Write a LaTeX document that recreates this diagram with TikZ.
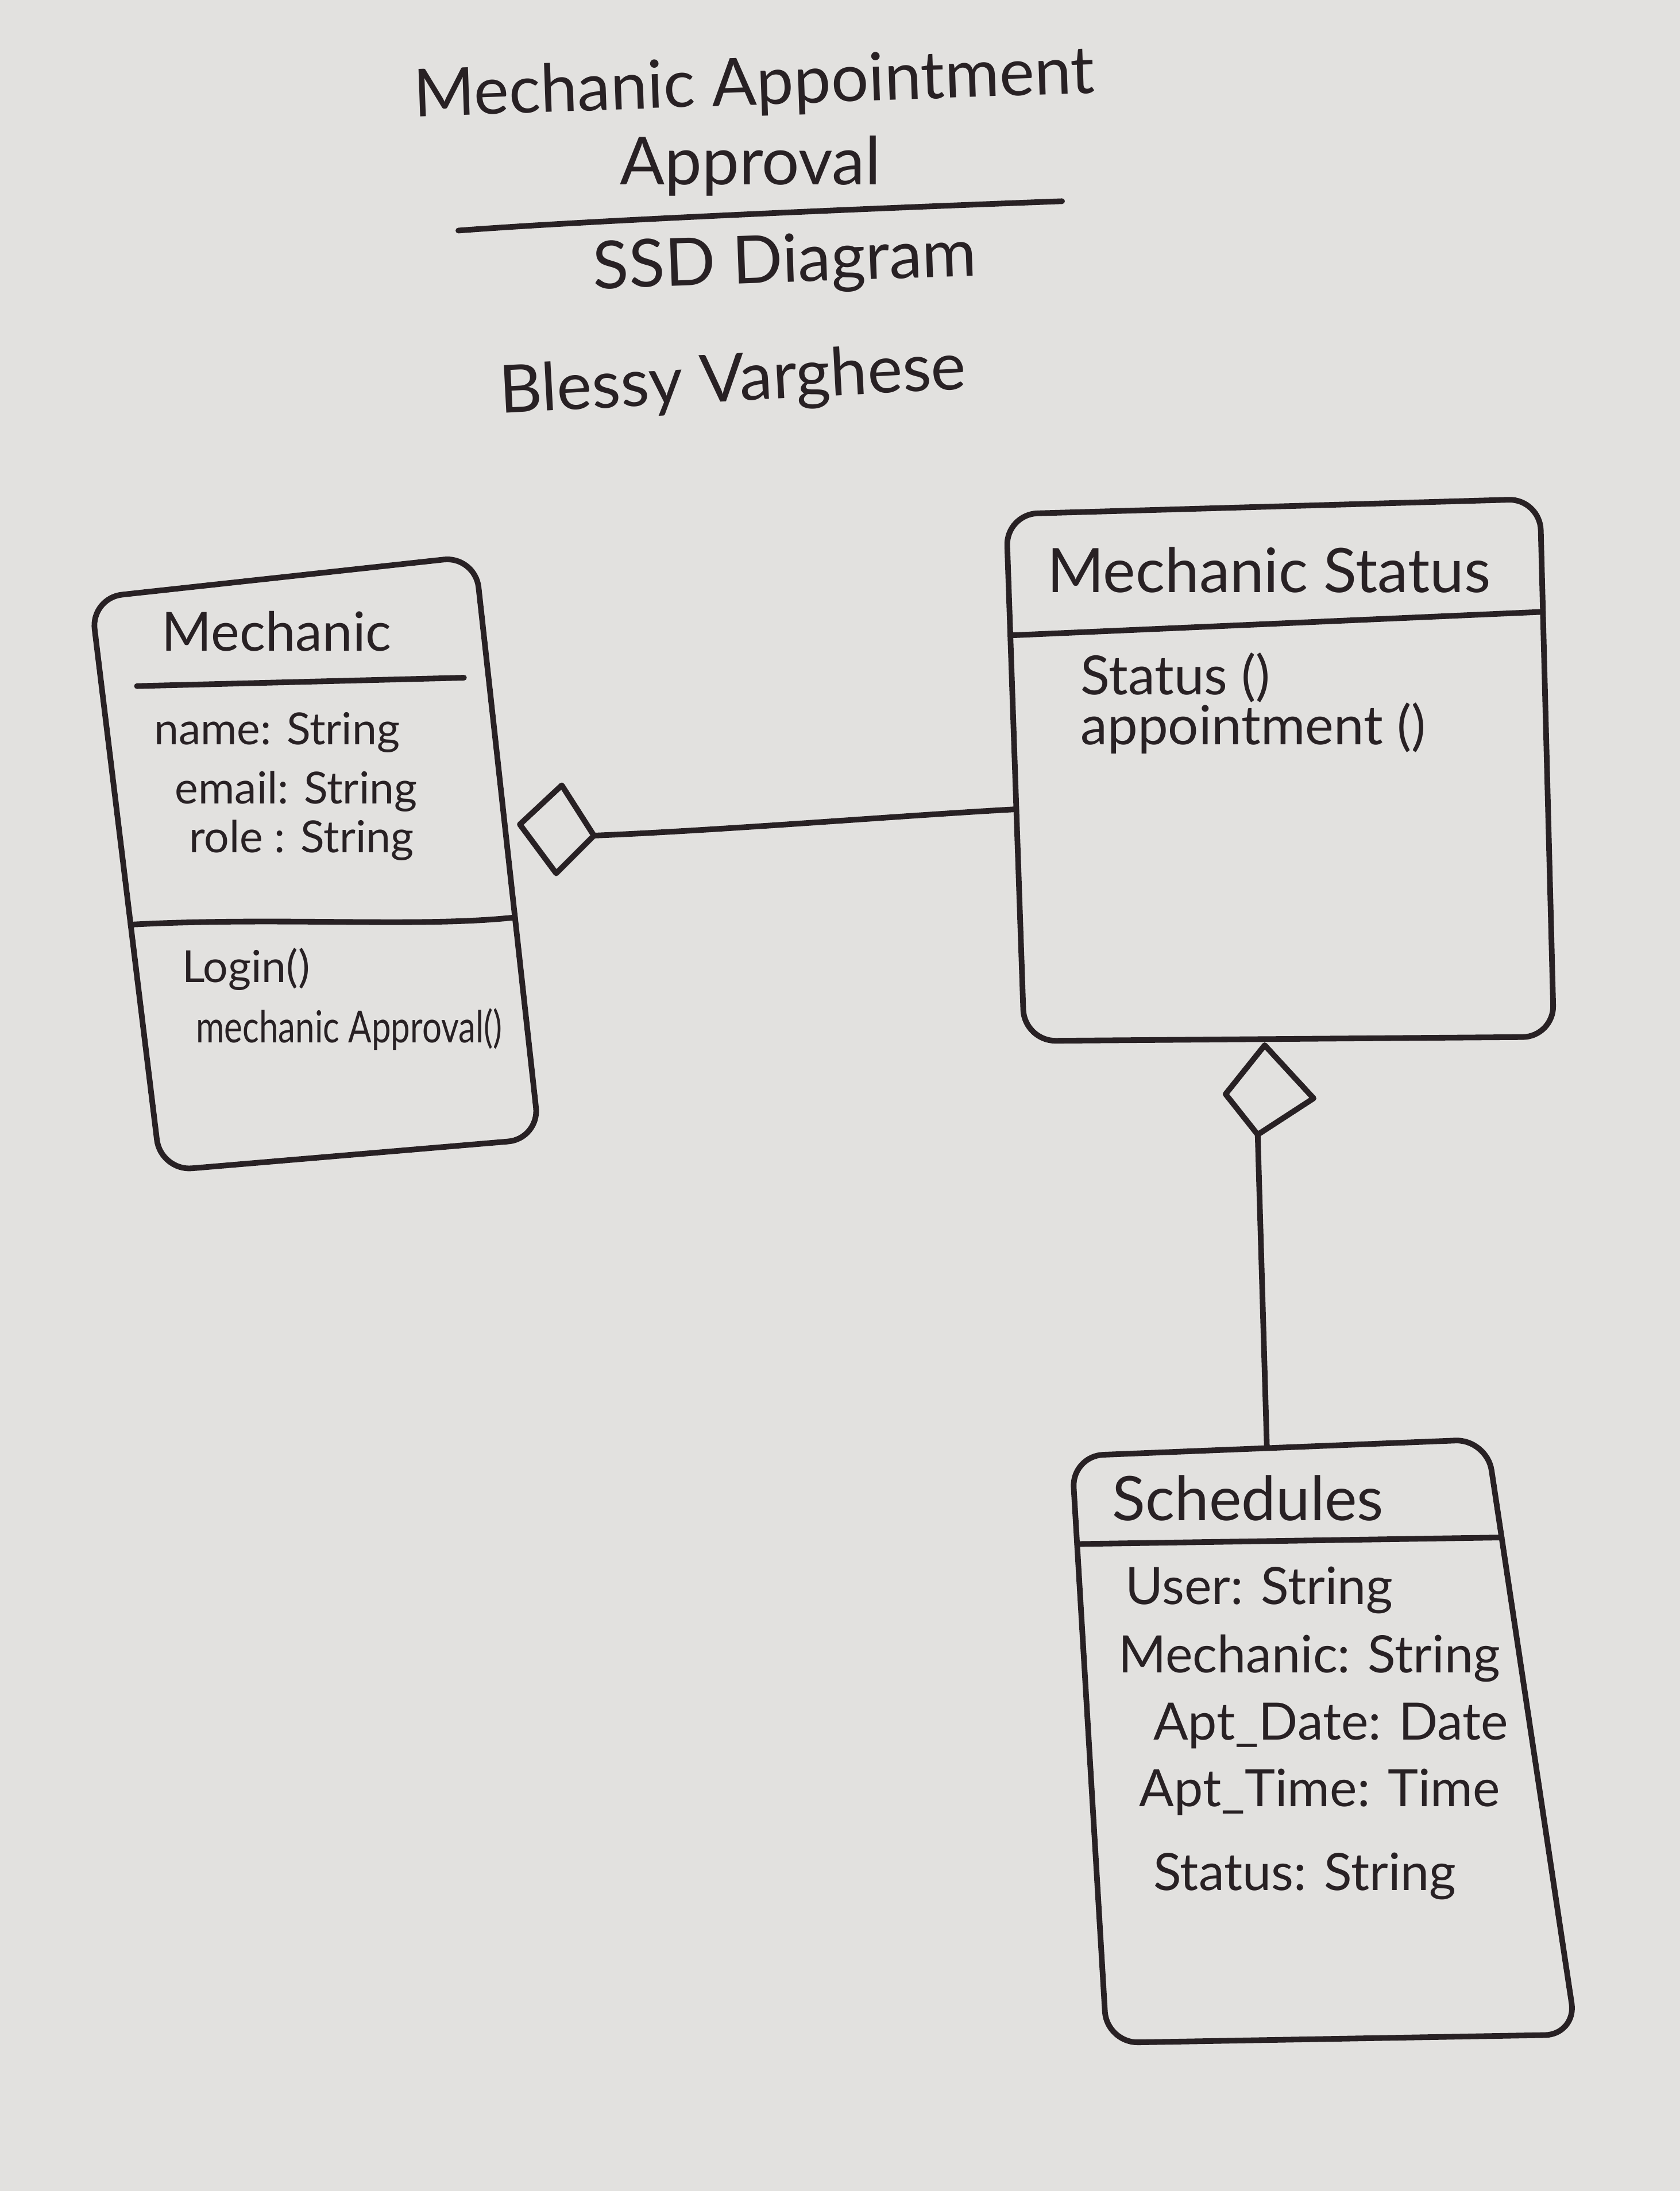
\documentclass[tikz,border=0pt]{standalone}
\usepackage{fontspec}
\setmainfont{Lato}
\usetikzlibrary{calc}
\definecolor{paper}{RGB}{226,225,223}
\definecolor{ink}{RGB}{40,33,36}
\tikzset{
  stroke/.style={draw=ink, line width=2.3pt, line cap=round, line join=round},
  boxline/.style={stroke, rounded corners=0.45cm},
  hand/.style={text=ink, inner sep=0pt, anchor=base west},
  handc/.style={text=ink, inner sep=0pt, anchor=base},
  ftitle/.style={font=\fontsize{27}{31}\selectfont},
  fhead/.style={font=\fontsize{25}{28}\selectfont},
  fmhead/.style={font=\fontsize{22}{25}\selectfont},
  fattr/.style={font=\fontsize{18}{21}\selectfont},
  fbig/.style={font=\fontsize{21}{24}\selectfont},
  fstat/.style={font=\fontsize{22}{25}\selectfont},
}
\begin{document}
\begin{tikzpicture}[x=0.02cm,y=-0.02cm]
\useasboundingbox (0,0) rectangle (1202,1568);
\fill[paper] (0,0) rectangle (1202,1568);

% ---- title block ----
\node[handc,ftitle,rotate=2] (t1) at (540,75) {Mechanic Appointment};
\node[handc,ftitle] (t2) at (537,132) {Approval};
\coordinate (ulA) at (328,165);
\coordinate (ulB) at (760,144);
\draw[stroke] (ulA) .. controls (420,158) and (600,150) .. (ulB);
\node[handc,ftitle,rotate=2] (t3) at (562,202) {SSD Diagram};
\node[handc,ftitle,rotate=3] (t4) at (525,287) {Blessy Varghese};

% ---- Mechanic class ----
\coordinate (mTL) at (65,428);
\coordinate (mTR) at (340,398);
\coordinate (mBR) at (386,815);
\coordinate (mBL) at (115,838);
\draw[boxline] (mTL) -- (mTR) -- (mBR) -- (mBL) -- cycle;
\node[handc,fmhead] (mTitle) at (198,466) {Mechanic};
\coordinate (mS1a) at (98,491);
\coordinate (mS1b) at (332,485);
\draw[stroke] (mS1a) -- (mS1b);
\node[hand,fattr] (mA1) at (110,533) {name: String};
\node[hand,fattr] (mA2) at (125,575) {email: String};
\node[hand,fattr] (mA3) at (135,610) {role : String};
\coordinate (mS2a) at ($(mTL)!0.57!(mBL)$);
\coordinate (mS2b) at ($(mTR)!0.62!(mBR)$);
\draw[stroke] (mS2a) .. controls (200,656) and (300,664) .. (mS2b);
\node[hand,fattr] (mM1) at (130,703) {Login()};
\node[hand,fattr] (mM2) at (140,746) {\scalebox{0.78}[1]{mechanic Approval()}};

% ---- Mechanic Status class ----
\coordinate (sTL) at (720,368);
\coordinate (sTR) at (1102,357);
\coordinate (sBR) at (1112,742);
\coordinate (sBL) at (733,745);
\draw[boxline] (sTL) -- (sTR) -- (sBR) -- (sBL) -- cycle;
\node[handc,fhead] (sTitle) at (908,424) {Mechanic Status};
\coordinate (sS1a) at ($(sTL)!0.23!(sBL)$);
\coordinate (sS1b) at ($(sTR)!0.21!(sBR)$);
\draw[stroke] (sS1a) -- (sS1b);
\node[hand,fstat] (sM1) at (773,497) {Status ()};
\node[hand,fstat] (sM2) at (773,533) {appointment ()};

% ---- Schedules class ----
\coordinate (cTL) at (767,1042);
\coordinate (cTR) at (1064,1030);
\coordinate (cBR) at (1128,1456);
\coordinate (cBL) at (792,1462);
\draw[boxline] (cTL) -- (cTR) -- (cBR) -- (cBL) -- cycle;
\node[handc,fhead] (cTitle) at (893,1088) {Schedules};
\coordinate (cS1a) at ($(cTL)!0.15!(cBL)$);
\coordinate (cS1b) at ($(cTR)!0.165!(cBR)$);
\draw[stroke] (cS1a) -- (cS1b);
\node[hand,fbig] (cA1) at (805,1148) {User: String};
\node[hand,fbig] (cA2) at (800,1197) {Mechanic: String};
\node[hand,fbig] (cA3) at (825,1245) {Apt\_Date: Date};
\node[hand,fbig] (cA4) at (815,1293) {Apt\_Time: Time};
\node[hand,fbig] (cA5) at (825,1353) {Status: String};

% ---- aggregation Mechanic <>--- Mechanic Status ----
\coordinate (d1L) at (372,590);
\coordinate (d1T) at (402,562);
\coordinate (d1R) at (425,598);
\coordinate (d1B) at (398,625);
\draw[stroke] (d1L) -- (d1T) -- (d1R) -- (d1B) -- cycle;
\coordinate (sLeft) at ($(sTL)!0.56!(sBL)$);
\draw[stroke] (d1R) .. controls (520,594) and (640,584) .. (sLeft);

% ---- aggregation Mechanic Status <>--- Schedules ----
\coordinate (d2T) at (905,748);
\coordinate (d2R) at (940,786);
\coordinate (d2B) at (900,812);
\coordinate (d2L) at (877,783);
\draw[stroke] (d2T) -- (d2R) -- (d2B) -- (d2L) -- cycle;
\coordinate (cTop) at ($(cTL)!0.47!(cTR)$);
\draw[stroke] (d2B) -- (cTop);
\end{tikzpicture}
\end{document}
